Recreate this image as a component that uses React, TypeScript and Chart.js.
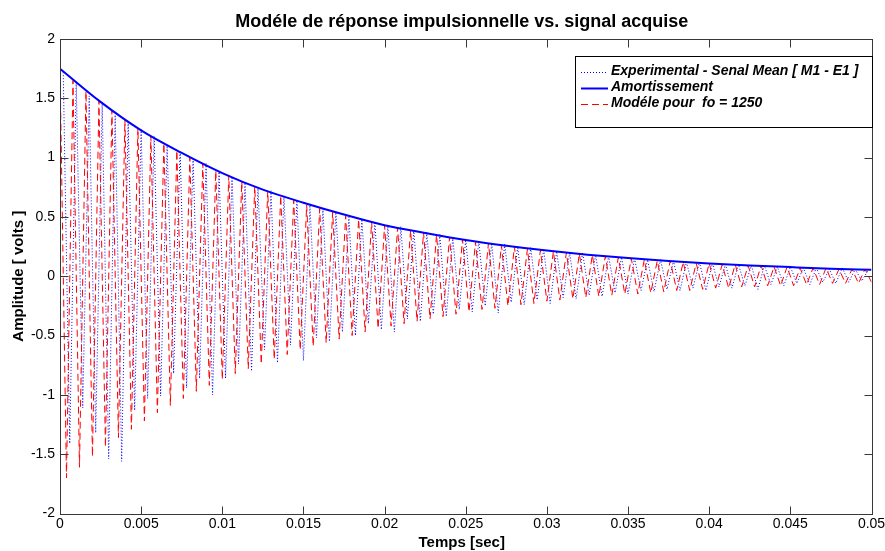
import React, { useEffect, useRef } from 'react';
import { Chart, registerables } from 'chart.js';

Chart.register(...registerables);

// ---- Data ----
const chartTitle = 'Modéle de réponse impulsionnelle vs. signal acquise';
const xAxisTitle = 'Temps [sec]';
const yAxisTitle = 'Amplitude [ volts ]';

const seriesLabels = [
  'Experimental - Senal Mean [ M1 - E1 ]',
  'Amortissement',
  'Modéle pour  fo = 1250',
];

// model (fo = 1250 Hz): extremes every half period (0.0004 s), starting at t = 0
const modelStep = 0.0004;
const modelValues = [
  1.75, -1.70, 1.65, -1.61, 1.56, -1.52, 1.48, -1.44, 1.40, -1.36,
  1.32, -1.29, 1.25, -1.22, 1.18, -1.15, 1.12, -1.09, 1.06, -1.03,
  1.00, -0.97, 0.95, -0.92, 0.89, -0.87, 0.85, -0.82, 0.80, -0.78,
  0.76, -0.74, 0.72, -0.70, 0.68, -0.66, 0.64, -0.62, 0.60, -0.59,
  0.57, -0.56, 0.54, -0.53, 0.51, -0.50, 0.48, -0.47, 0.46, -0.44,
  0.43, -0.42, 0.41, -0.40, 0.39, -0.38, 0.37, -0.36, 0.35, -0.34,
  0.33, -0.32, 0.31, -0.30, 0.29, -0.28, 0.28, -0.27, 0.26, -0.25,
  0.25, -0.24, 0.23, -0.23, 0.22, -0.21, 0.21, -0.20, 0.20, -0.19,
  0.19, -0.18, 0.18, -0.17, 0.17, -0.16, 0.16, -0.15, 0.15, -0.15,
  0.14, -0.14, 0.13, -0.13, 0.13, -0.12, 0.12, -0.12, 0.11, -0.11,
  0.11, -0.10, 0.10, -0.10, 0.10, -0.09, 0.09, -0.09, 0.09, -0.08,
  0.08, -0.08, 0.08, -0.08, 0.07, -0.07, 0.07, -0.07, 0.07, -0.06,
  0.06, -0.06, 0.06, -0.06, 0.06, -0.05,
];

// experimental signal: extremes every 0.0004 s, starting at t = 0.0002
const expStart = 0.0002;
const expStep = 0.0004;
const experimentalValues = [
  1.72, -1.41, 1.64, -1.11, 1.52, -1.32, 1.46, -1.54, 1.36, -1.56,
  1.30, -1.13, 1.24, -1.03, 1.18, -1.01, 1.10, -0.82, 1.06, -0.94,
  0.99, -0.86, 0.95, -1.00, 0.88, -0.86, 0.84, -0.74, 0.79, -0.80,
  0.75, -0.62, 0.72, -0.73, 0.68, -0.58, 0.64, -0.71, 0.60, -0.52,
  0.57, -0.55, 0.54, -0.47, 0.50, -0.50, 0.48, -0.40, 0.46, -0.45,
  0.43, -0.47, 0.42, -0.36, 0.39, -0.38, 0.37, -0.32, 0.35, -0.34,
  0.33, -0.28, 0.31, -0.30, 0.30, -0.25, 0.28, -0.31, 0.27, -0.22,
  0.25, -0.24, 0.24, -0.20, 0.23, -0.23, 0.21, -0.18, 0.20, -0.19,
  0.20, -0.16, 0.18, -0.17, 0.17, -0.14, 0.16, -0.15, 0.15, -0.12,
  0.14, -0.13, 0.14, -0.11, 0.13, -0.12, 0.12, -0.10, 0.12, -0.12,
  0.11, -0.09, 0.10, -0.10, 0.10, -0.08, 0.09, -0.11, 0.09, -0.07,
  0.08, -0.08, 0.08, -0.06, 0.07, -0.07, 0.07, -0.05, 0.06, -0.06,
  0.07, -0.05, 0.06, -0.04, 0.05,
];

// damping envelope sampled every 0.0025 s
const envStep = 0.0025;
const envelopeValues = [
  1.75, 1.47, 1.23, 1.04, 0.87, 0.73, 0.62, 0.52, 0.43, 0.365,
  0.306, 0.258, 0.217, 0.182, 0.153, 0.129, 0.108, 0.091, 0.077, 0.064,
  0.054,
];

const xTicks = [0, 0.005, 0.01, 0.015, 0.02, 0.025, 0.03, 0.035, 0.04, 0.045, 0.05];
const xTickLabels = ['0', '0.005', '0.01', '0.015', '0.02', '0.025', '0.03', '0.035', '0.04', '0.045', '0.05'];
const yTicks = [-2, -1.5, -1, -0.5, 0, 0.5, 1, 1.5, 2];
const yTickLabels = ['-2', '-1.5', '-1', '-0.5', '0', '0.5', '1', '1.5', '2'];

const FONT = '"Liberation Sans", Arial, Helvetica, sans-serif';

const decorPlugin = {
  id: 'matlabDecor',
  afterDraw(chart: any) {
    const ctx = chart.ctx as CanvasRenderingContext2D;
    const a = chart.chartArea;
    const xs = chart.scales.x;
    const ys = chart.scales.y;
    const L = Math.round(a.left) + 0.5;
    const R = Math.round(a.right) + 0.5;
    const T = Math.round(a.top) + 0.5;
    const B = Math.round(a.bottom) + 0.5;
    ctx.save();
    // axes box
    ctx.strokeStyle = '#383838';
    ctx.lineWidth = 1;
    ctx.setLineDash([]);
    ctx.strokeRect(L, T, R - L, B - T);
    // inward ticks
    const tl = 8;
    ctx.beginPath();
    xTicks.forEach((v) => {
      const px = Math.round(xs.getPixelForValue(v)) + 0.5;
      ctx.moveTo(px, B); ctx.lineTo(px, B - tl);
      ctx.moveTo(px, T); ctx.lineTo(px, T + tl);
    });
    yTicks.forEach((v) => {
      const py = Math.round(ys.getPixelForValue(v)) + 0.5;
      ctx.moveTo(L, py); ctx.lineTo(L + tl, py);
      ctx.moveTo(R, py); ctx.lineTo(R - tl, py);
    });
    ctx.stroke();

    // tick labels
    ctx.fillStyle = '#000';
    ctx.font = `14px ${FONT}`;
    ctx.textAlign = 'center';
    ctx.textBaseline = 'middle';
    xTicks.forEach((v, i) => {
      ctx.fillText(xTickLabels[i], xs.getPixelForValue(v), a.bottom + 11);
    });
    ctx.textAlign = 'right';
    yTicks.forEach((v, i) => {
      ctx.fillText(yTickLabels[i], a.left - 5, ys.getPixelForValue(v));
    });

    // axis titles
    const cx = (a.left + a.right) / 2 - 4;
    ctx.font = `bold 15px ${FONT}`;
    ctx.textAlign = 'center';
    ctx.fillText(xAxisTitle, cx, a.bottom + 29);
    ctx.save();
    ctx.translate(19, (a.top + a.bottom) / 2);
    ctx.rotate(-Math.PI / 2);
    ctx.fillText(yAxisTitle, 0, 0);
    ctx.restore();

    // title
    ctx.font = `bold 18px ${FONT}`;
    ctx.textBaseline = 'alphabetic';
    ctx.fillText(chartTitle, cx, 27);

    // legend
    const lx = 575.5, ly = 56.5, lw = R - lx, lh = 71;
    ctx.fillStyle = '#fff';
    ctx.fillRect(lx, ly, lw, lh);
    ctx.strokeStyle = '#000';
    ctx.lineWidth = 1;
    ctx.strokeRect(lx, ly, lw, lh);
    const rows = [71.5, 87.5, 103.5];
    const order = [0, 1, 2];
    order.forEach((di, r) => {
      const ds = chart.data.datasets[di];
      const y = rows[r];
      ctx.save();
      ctx.strokeStyle = ds.borderColor;
      ctx.lineWidth = ds.borderWidth;
      ctx.setLineDash(ds.borderDash || []);
      ctx.beginPath();
      ctx.moveTo(581, y + 1);
      ctx.lineTo(608, y + 1);
      ctx.stroke();
      ctx.restore();
      ctx.fillStyle = '#000';
      ctx.font = `italic bold 14px ${FONT}`;
      ctx.textAlign = 'left';
      ctx.textBaseline = 'middle';
      ctx.fillText(ds.label, 611, y);
    });
    ctx.restore();
  },
};

export default function App() {
  const ref = useRef<HTMLCanvasElement | null>(null);
  useEffect(() => {
    if (!ref.current) return;
    const modelData = modelValues.map((v, i) => ({ x: i * modelStep, y: v }));
    const expData = experimentalValues.map((v, i) => ({ x: expStart + i * expStep, y: v }));
    const envData = envelopeValues.map((v, i) => ({ x: i * envStep, y: v }));
    const chart = new Chart(ref.current, {
      type: 'line',
      data: {
        datasets: [
          {
            label: seriesLabels[0],
            data: expData,
            borderColor: '#0000ff',
            borderWidth: 1,
            borderDash: [1, 2],
            pointRadius: 0,
            fill: false,
            tension: 0,
            order: 3,
          },
          {
            label: seriesLabels[1],
            data: envData,
            borderColor: '#0000ff',
            borderWidth: 2,
            pointRadius: 0,
            fill: false,
            cubicInterpolationMode: 'monotone',
            order: 1,
          },
          {
            label: seriesLabels[2],
            data: modelData,
            borderColor: '#ff0000',
            borderWidth: 1,
            borderDash: [7, 4],
            pointRadius: 0,
            fill: false,
            tension: 0,
            order: 2,
          },
        ],
      },
      options: {
        animation: false,
        responsive: false,
        maintainAspectRatio: false,
        layout: { padding: { left: 60, top: 39, right: 13.5, bottom: 37.5 } },
        plugins: {
          legend: { display: false },
          title: { display: false },
          tooltip: { enabled: false },
        },
        scales: {
          x: { type: 'linear', min: 0, max: 0.05, display: false },
          y: { type: 'linear', min: -2, max: 2, display: false },
        },
        elements: { point: { radius: 0 } },
      },
      plugins: [decorPlugin],
    } as any);
    return () => chart.destroy();
  }, []);
  return (
    <div style={{ position: 'absolute', left: 0, top: 0, width: 885, height: 551, background: '#fff' }}>
      <canvas ref={ref} width={885} height={551} />
    </div>
  );
}
